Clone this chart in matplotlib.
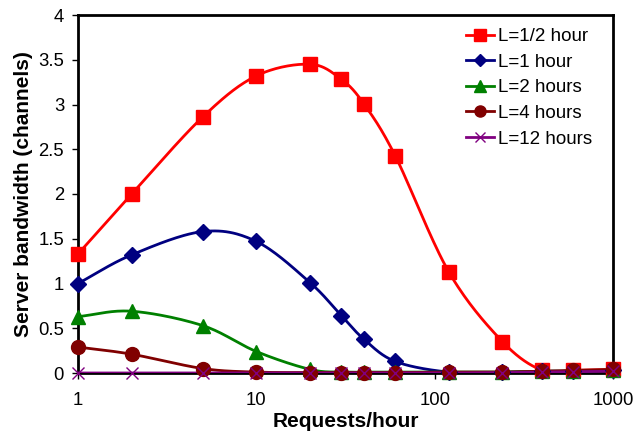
import numpy as np
import matplotlib
matplotlib.use("Agg")
import matplotlib.pyplot as plt

plt.rcParams['font.family'] = ['Liberation Sans', 'DejaVu Sans']

requests = [1, 2, 5, 10, 20, 30, 40, 60, 120, 240, 400, 600, 1000]
bw_half = [1.33, 2.00, 2.86, 3.32, 3.45, 3.28, 3.01, 2.43, 1.13, 0.35, 0.03, 0.03, 0.04]
bw_1 = [1.00, 1.32, 1.58, 1.47, 1.01, 0.64, 0.38, 0.13, 0.01, 0.01, 0.02, 0.02, 0.03]
bw_2 = [0.63, 0.69, 0.53, 0.24, 0.04, 0.01, 0.01, 0.01, 0.01, 0.01, 0.02, 0.02, 0.03]
bw_4 = [0.29, 0.21, 0.05, 0.01, 0.005, 0.005, 0.005, 0.005, 0.01, 0.01, 0.02, 0.03, 0.04]
bw_12 = [0.0, 0.0, 0.0, 0.0, 0.0, 0.0, 0.0, 0.0, 0.0, 0.005, 0.01, 0.015, 0.02]
labels = ["L=1/2 hour", "L=1 hour", "L=2 hours", "L=4 hours", "L=12 hours"]


def smooth(xs, ys, n=30):
    # Catmull-Rom through the points in log-x space (like Excel's smoothed line)
    lx = np.log10(xs)
    ys = np.asarray(ys, float)
    px = np.concatenate([[2 * lx[0] - lx[1]], lx, [2 * lx[-1] - lx[-2]]])
    py = np.concatenate([[2 * ys[0] - ys[1]], ys, [2 * ys[-1] - ys[-2]]])
    outx, outy = [], []
    t = np.linspace(0, 1, n)
    for i in range(1, len(px) - 2):
        for arr, out in ((px, outx), (py, outy)):
            p0, p1, p2, p3 = arr[i - 1], arr[i], arr[i + 1], arr[i + 2]
            out.extend(0.5 * (2 * p1 + (-p0 + p2) * t
                              + (2 * p0 - 5 * p1 + 4 * p2 - p3) * t ** 2
                              + (-p0 + 3 * p1 - 3 * p2 + p3) * t ** 3))
    return 10 ** np.array(outx), np.array(outy)


fig = plt.figure(figsize=(6.37, 4.32), dpi=100)
ax = fig.add_axes([78 / 637, 1 - 373 / 432, (613 - 78) / 637, (373 - 15) / 432])

styles = [
    ("#ff0000", "s", 10, dict()),
    ("#000080", "D", 8, dict()),
    ("#008000", "^", 10, dict()),
    ("#800000", "o", 10, dict()),
    ("#800080", "x", 9, dict(markeredgewidth=1)),
]
series = [bw_half, bw_1, bw_2, bw_4, bw_12]

for ys, (col, mk, ms, extra), lab in zip(series, styles, labels):
    sx, sy = smooth(requests, ys)
    ax.plot(sx, sy, color=col, lw=2, zorder=3)
    ax.plot(requests, ys, linestyle="none", marker=mk, ms=ms, color=col,
            zorder=4, clip_on=False, **extra)
    ax.plot([], [], color=col, lw=2, marker=mk, ms=ms * 0.8, label=lab, **extra)

ax.set_xscale("log")
ax.set_xlim(1, 1000)
ax.set_ylim(0, 4)
ax.set_xticks([1, 10, 100, 1000])
ax.set_xticklabels(["1", "10", "100", "1000"])
ax.xaxis.set_minor_locator(matplotlib.ticker.NullLocator())
ax.set_yticks([0, 0.5, 1, 1.5, 2, 2.5, 3, 3.5, 4])
ax.set_yticklabels(["0", "0.5", "1", "1.5", "2", "2.5", "3", "3.5", "4"])
ax.tick_params(labelsize=13.3, length=4, width=1, direction="out", pad=6)
ax.tick_params(axis="x", pad=10)
for sp in ax.spines.values():
    sp.set_linewidth(2)
    sp.set_color("black")

ax.set_xlabel("Requests/hour", fontsize=15, fontweight="bold", labelpad=2)
ax.set_ylabel("Server bandwidth (channels)", fontsize=15, fontweight="bold", labelpad=4)

ax.legend(loc="upper right", bbox_to_anchor=(0.985, 1.0), frameon=False,
          fontsize=13.5, handlelength=1.5, handletextpad=0.2, labelspacing=0.45,
          borderaxespad=0.3)

fig.savefig("out.png", dpi=100)
